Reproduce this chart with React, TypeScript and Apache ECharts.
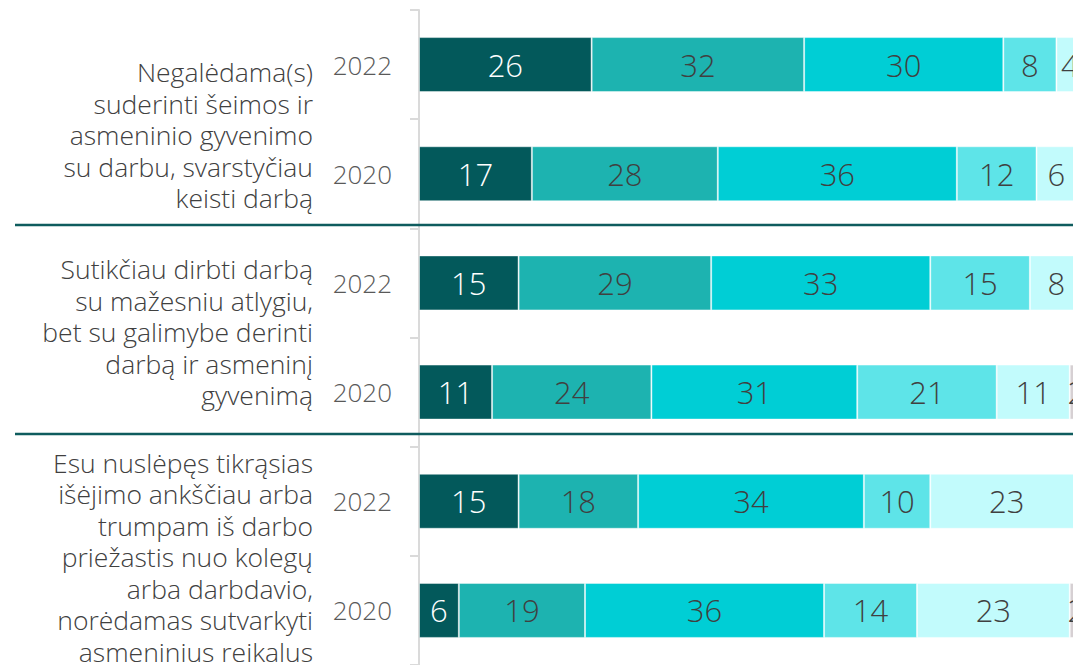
import React, { useEffect, useRef } from "react";
import * as echarts from "echarts";

// Row order (top to bottom): group 1 (2022, 2020), group 2 (2022, 2020), group 3 (2022, 2020)
const rowKeys = ["g1-2022", "g1-2020", "g2-2022", "g2-2020", "g3-2022", "g3-2020"];
const rowYears = ["2022", "2020", "2022", "2020", "2022", "2020"];

const groupLabels = [
  "Negalėdama(s)\nsuderinti šeimos ir\nasmeninio gyvenimo\nsu darbu, svarstyčiau\nkeisti darbą",
  "Sutikčiau dirbti darbą\nsu mažesniu atlygiu,\nbet su galimybe derinti\ndarbą ir asmeninį\ngyvenimą",
  "Esu nuslėpęs tikrąsias\nišėjimo ankščiau arba\ntrumpam iš darbo\npriežastis nuo kolegų\narba darbdavio,\nnorėdamas sutvarkyti\nasmeninius reikalus",
];

const seriesA = [26, 17, 15, 11, 15, 6];
const seriesB = [32, 28, 29, 24, 18, 19];
const seriesC = [30, 36, 33, 31, 34, 36];
const seriesD = [8, 12, 15, 21, 10, 14];
const seriesE = [4, 6, 8, 11, 23, 23];
const seriesF = [0, 1, 0, 2, 0, 2];

const seriesValues = [seriesA, seriesB, seriesC, seriesD, seriesE, seriesF];
const seriesColors = ["#03595b", "#1db3b0", "#00ced5", "#5ee4e8", "#c2fbfc", "#d6d0d3"];
const labelColors = ["#ffffff", "#404040", "#404040", "#404040", "#404040", "#404040"];

const FONT = '"Open Sans", "Segoe UI", sans-serif';

export default function App() {
  const ref = useRef<HTMLDivElement>(null);

  useEffect(() => {
    if (!ref.current) return;
    document.body.style.overflow = "hidden";
    document.documentElement.style.overflow = "hidden";
    const chart = echarts.init(ref.current, null, { renderer: "svg" });

    const groupCenters = [135, 332, 557];
    const textEls = groupLabels.map((t, i) => ({
      type: "text",
      x: 313,
      y: groupCenters[i],
      style: {
        text: t,
        align: "right",
        verticalAlign: "middle",
        fontFamily: FONT,
        fontWeight: 300,
        fontSize: 26.5,
        lineHeight: 31.5,
        fill: "#404040",
      },
    }));

    const sepLines = [225, 434].map((y) => ({
      type: "line",
      shape: { x1: 15, y1: y, x2: 1083, y2: y },
      style: { stroke: "#0f5c5e", lineWidth: 2.5 },
      z: 10,
    }));

    chart.setOption({
      animation: false,
      backgroundColor: "#ffffff",
      grid: { left: 419, right: 0, top: 10, bottom: -2, containLabel: false },
      xAxis: {
        type: "value",
        min: 0,
        max: 100,
        show: false,
      },
      yAxis: {
        type: "category",
        inverse: true,
        data: rowKeys,
        axisLine: { show: true, lineStyle: { color: "#dadada", width: 2 } },
        axisTick: { show: true, length: 9, lineStyle: { color: "#dadada", width: 2 } },
        axisLabel: {
          margin: 27,
          fontFamily: FONT,
          fontWeight: 300,
          fontSize: 26,
          color: "#595959",
          formatter: (_v: string, idx: number) => rowYears[idx],
        },
      },
      series: seriesValues.map((vals, i) => ({
        type: "bar",
        stack: "total",
        barWidth: 55,
        data: vals,
        itemStyle: {
          color: seriesColors[i],
          borderColor: "rgba(255,255,255,0.45)",
          borderWidth: 1,
        },
        label: {
          show: true,
          position: "inside",
          fontFamily: FONT,
          fontWeight: 300,
          fontSize: 31,
          color: labelColors[i],
          formatter: (p: any) => (p.value ? String(p.value) : ""),
        },
      })),
      graphic: [...textEls, ...sepLines],
    });

    return () => chart.dispose();
  }, []);

  return (
    <div
      ref={ref}
      style={{ position: "fixed", left: 0, top: 0, width: 1083, height: 665 }}
    />
  );
}
